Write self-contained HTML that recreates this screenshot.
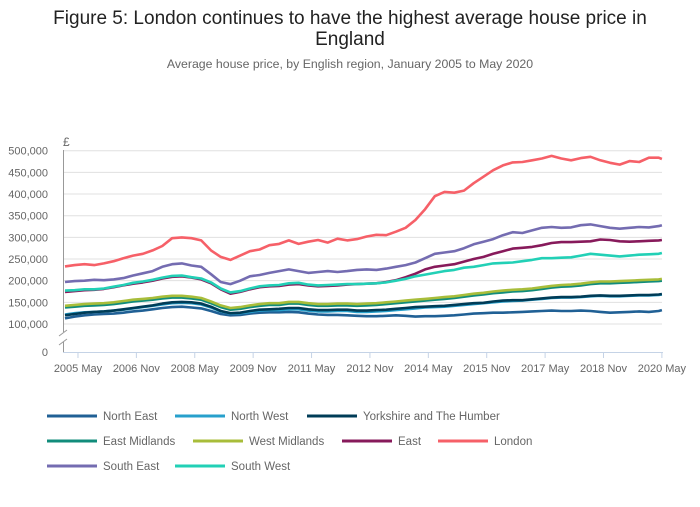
<!DOCTYPE html>
<html><head><meta charset="utf-8"><style>
body{margin:0;background:#fff;font-family:"Liberation Sans",sans-serif}
svg text{font-family:"Liberation Sans",sans-serif}
</style></head><body>
<svg id="chart" width="700" height="502" xmlns="http://www.w3.org/2000/svg">
<text x="350" y="24" text-anchor="middle" font-size="19" fill="#222">Figure 5: London continues to have the highest average house price in</text>
<text x="350" y="45" text-anchor="middle" font-size="19" fill="#222">England</text>
<text x="350" y="68" text-anchor="middle" font-size="12.3" fill="#666">Average house price, by English region, January 2005 to May 2020</text>
<text x="63" y="146" font-size="12" fill="#666">£</text>
<g id="grid"></g><g id="series"></g><g id="axes"></g><g id="legend"></g>
</svg>
<script>
const yTicks=[100000,150000,200000,250000,300000,350000,400000,450000,500000];
const xTickLabels=["2005 May","2006 Nov","2008 May","2009 Nov","2011 May","2012 Nov","2014 May","2015 Nov","2017 May","2018 Nov","2020 May"];
const xTickMonths=[4,22,40,58,76,94,112,130,148,166,184];
const months=[0,3,6,9,12,15,18,21,24,27,30,33,36,39,42,45,48,51,54,57,60,63,66,69,72,75,78,81,84,87,90,93,96,99,102,105,108,111,114,117,120,123,126,129,132,135,138,141,144,147,150,153,156,159,162,165,168,171,174,177,180,183,184];
const regions=["North East","North West","Yorkshire and The Humber","East Midlands","West Midlands","East","London","South East","South West"];
const colors=["#206095","#27a0cc","#003c57","#118c7b","#a8bd3a","#871a5b","#f66068","#746cb1","#22d0b6"];
const northEast=[113,117,120,122,123,124,126,129,131,134,137,139,140,138,136,130,123,120,121,124,126,127,127,128,127,124,122,121,121,120,119,118,118,119,120,119,117,118,118,119,120,122,124,125,126,126,127,128,129,130,131,130,130,131,130,128,126,127,128,129,128,130,132];
const northWest=[122,125,127,128,129,131,133,136,139,142,145,148,149,148,145,138,129,124,125,128,131,132,132,134,134,131,129,129,130,130,128,128,129,130,132,134,136,138,139,140,142,144,146,148,150,152,153,154,156,158,160,161,161,162,164,165,164,164,165,166,166,167,168];
const yorkshire=[120,123,126,128,129,131,134,137,140,143,147,150,151,150,147,140,130,125,126,130,133,134,135,137,137,134,132,132,133,133,131,131,132,133,135,137,139,140,141,142,144,146,148,149,152,154,155,155,157,159,161,162,162,163,165,166,165,165,166,167,167,168,169];
const eastMidlands=[138,140,142,143,144,146,149,152,154,156,159,161,161,159,156,148,139,133,135,139,142,144,144,147,147,144,142,142,143,143,142,143,144,146,148,150,152,154,156,158,160,163,166,168,171,173,175,176,178,181,184,186,187,189,192,194,194,195,196,197,198,199,200];
const westMidlands=[142,144,146,147,148,150,153,156,158,160,163,165,165,163,160,152,143,137,139,143,146,148,148,151,151,148,146,146,147,147,146,147,148,150,152,154,156,158,160,162,164,167,170,172,175,177,179,180,182,185,188,190,191,193,196,198,198,199,200,201,202,203,204];
const east=[174,176,178,179,181,185,189,193,196,200,205,209,210,207,203,194,180,170,174,180,185,187,188,191,192,189,187,188,189,191,192,193,194,197,201,208,216,226,232,235,238,244,250,255,262,268,274,276,278,282,287,289,289,290,291,295,294,291,290,291,292,293,294];
const london=[233,236,238,236,240,245,252,258,262,270,280,298,300,298,293,270,255,248,258,268,272,282,285,293,285,290,294,288,297,293,296,302,306,305,313,322,340,365,395,405,403,408,425,440,455,466,473,474,478,482,488,482,478,483,486,478,472,468,476,474,484,484,481];
const southEast=[197,199,200,202,201,203,206,212,217,222,232,238,240,235,232,215,197,192,200,210,213,218,222,226,222,218,220,222,220,222,225,226,225,228,232,236,242,252,262,265,268,275,284,290,296,305,312,310,316,322,324,322,323,328,330,326,322,320,322,324,323,326,328];
const southWest=[177,178,180,180,182,186,190,195,198,202,207,211,212,208,205,196,182,173,176,182,187,189,190,194,195,191,189,190,191,192,192,193,194,196,200,204,210,214,218,222,225,230,232,236,240,241,242,245,248,252,252,253,254,258,262,260,258,256,258,260,261,262,264];
const seriesData=[northEast,northWest,yorkshire,eastMidlands,westMidlands,east,london,southEast,southWest];
const NS="http://www.w3.org/2000/svg";
function xScale(m){return 65+m*3.244;}
function yScale(v){return 324-(v-100000)*21.66/50000;}
function mk(t,a,p){const e=document.createElementNS(NS,t);for(const k in a)e.setAttribute(k,a[k]);p.appendChild(e);return e;}
const grid=document.getElementById('grid'),axes=document.getElementById('axes'),ser=document.getElementById('series'),leg=document.getElementById('legend');
yTicks.forEach(v=>{const y=yScale(v);
 const l=mk('line',{x1:63,x2:662,y1:y,y2:y,stroke:'#e0e0e0','stroke-width':1},grid);
 
 
 const t=mk('text',{x:48,y:y+4,'text-anchor':'end','font-size':11,fill:'#666'},axes);
 t.textContent=v.toLocaleString('en-GB');
 
 
});
const z=mk('text',{x:48,y:356,'text-anchor':'end','font-size':11,fill:'#666'},axes);z.textContent='0';


const ya=mk('path',{d:'M63.5 150 V332 M63.5 342 V352',stroke:'#999',fill:'none'},axes);


const br=mk('path',{d:'M59 336 L67 330 M59 345 L67 339',stroke:'#999',fill:'none'},axes);


const xa=mk('line',{x1:63,x2:663,y1:352.5,y2:352.5,stroke:'#c5d3e6'},axes);


xTickMonths.forEach((m,i)=>{const x=xScale(m);
 const tk=mk('line',{x1:x,x2:x,y1:352,y2:358,stroke:'#c5d3e6'},axes);
 
 
 const t=mk('text',{x:x,y:372,'text-anchor':'middle','font-size':11,fill:'#666'},axes);
 t.textContent=xTickLabels[i];
 
 
});
seriesData.forEach((d,i)=>{
 const pts=d.map((v,j)=>xScale(months[j]).toFixed(1)+','+yScale(v*1000).toFixed(1)).join(' ');
 const p=mk('polyline',{points:pts,fill:'none',stroke:colors[i],'stroke-width':2.6,'stroke-linejoin':'round'},ser);
 
 
});
const legPos=[[47,416],[175,416],[307,416],[47,441],[193,441],[342,441],[438,441],[47,466],[175,466]];
regions.forEach((r,i)=>{const [x,y]=legPos[i];
 const g=mk('g',{},leg);
 
 
 mk('line',{x1:x,x2:x+50,y1:y,y2:y,stroke:colors[i],'stroke-width':3},g);
 const t=mk('text',{x:x+56,y:y+4,'font-size':11.5,fill:'#666'},g);t.textContent=r;
});
</script>
</body></html>
